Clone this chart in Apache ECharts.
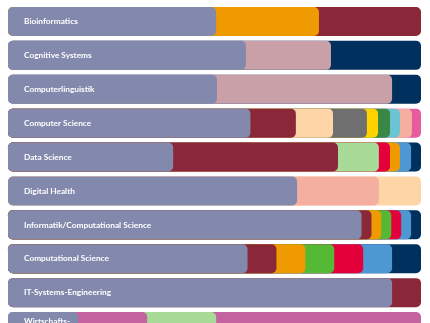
<!DOCTYPE html>
<html><head><meta charset="utf-8">
<script src="https://cdn.jsdelivr.net/npm/echarts@6/dist/echarts.min.js"></script>
<style>html,body{margin:0;padding:0;background:#fff;overflow:hidden}#c{width:430px;height:344px}</style>
</head><body><div id="c"></div>
<script>
const categories = ["Bioinformatics","Cognitive Systems","Computerlinguistik","Computer Science","Data Science","Digital Health","Informatik/Computational Science","Computational Science","IT-Systems-Engineering","Wirtschafts-\ninformatik"];

const bioinformatics = [50.4, 24.9, 24.7];
const cognitiveSystems = [57.6, 20.6, 21.8];
const computerlinguistik = [50.6, 42.4, 7.0];
const computerScience = [58.7, 11.0, 9.0, 8.2, 2.7, 2.9, 2.4, 2.9, 2.2];
const dataScience = [40.0, 39.9, 9.9, 2.7, 2.4, 2.7, 2.4];
const digitalHealth = [70.0, 19.8, 10.2];
const informatikCS = [85.6, 2.4, 2.4, 2.4, 2.4, 2.4, 2.4];
const computationalScience = [58.0, 7.0, 7.0, 7.0, 7.0, 7.0, 7.0];
const itSystems = [93.0, 7.0];
const wirtschaftsinformatik = [17.0, 16.7, 16.7, 49.6];

const rows = [bioinformatics, cognitiveSystems, computerlinguistik, computerScience, dataScience, digitalHealth, informatikCS, computationalScience, itSystems, wirtschaftsinformatik];

const C = {
  base:'#8289AC', orange:'#EF9A00', crimson:'#8A2839', rose:'#C9A0A8', navy:'#00305E',
  peach:'#FDD5A7', dgray:'#6F6F6F', yellow:'#FFD200', dgreen:'#3A8745', teal:'#6BC4D3',
  salmon:'#F5AFA0', hotpink:'#E95B9F', lgreen:'#A8DB98', red:'#E3003B', blue:'#4D97D3',
  green:'#55B935', magenta:'#C563A0'
};
const rowColors = [
  ['base','orange','crimson'],
  ['base','rose','navy'],
  ['base','rose','navy'],
  ['base','crimson','peach','dgray','yellow','dgreen','teal','salmon','hotpink'],
  ['base','crimson','lgreen','red','orange','blue','navy'],
  ['base','salmon','peach'],
  ['base','crimson','orange','green','red','blue','navy'],
  ['base','crimson','orange','green','red','blue','navy'],
  ['base','crimson'],
  ['base','magenta','lgreen','magenta']
];

const maxSeg = Math.max(...rows.map(r => r.length));
const series = [];
for (let k = maxSeg - 1; k >= 0; k--) {
  const data = rows.map((r, i) => {
    if (k >= r.length) return '-';
    let s = 0; for (let j = 0; j <= k; j++) s += r[j];
    return { value: s, itemStyle: { color: C[rowColors[i][k]] } };
  });
  const ser = {
    type: 'bar', data, barWidth: 29, barGap: '-100%',
    itemStyle: { borderRadius: 5 }, silent: true, animation: false
  };
  if (k === 0) {
    ser.label = {
      show: true, position: 'insideLeft', distance: 16,
      formatter: p => categories[p.dataIndex],
      color: '#ffffff', fontFamily: 'Lato', fontWeight: 'bold', fontSize: 8.3, lineHeight: 11
    };
  }
  series.push(ser);
}

const chart = echarts.init(document.getElementById('c'), null, {renderer:'canvas'});
chart.setOption({
  backgroundColor: '#ffffff',
  animation: false,
  grid: { left: 8, width: 413, top: 4.5, height: 339, containLabel: false },
  xAxis: { type: 'value', min: 0, max: 100, show: false },
  yAxis: { type: 'category', data: categories, inverse: true, show: false },
  series
});
</script></body></html>
